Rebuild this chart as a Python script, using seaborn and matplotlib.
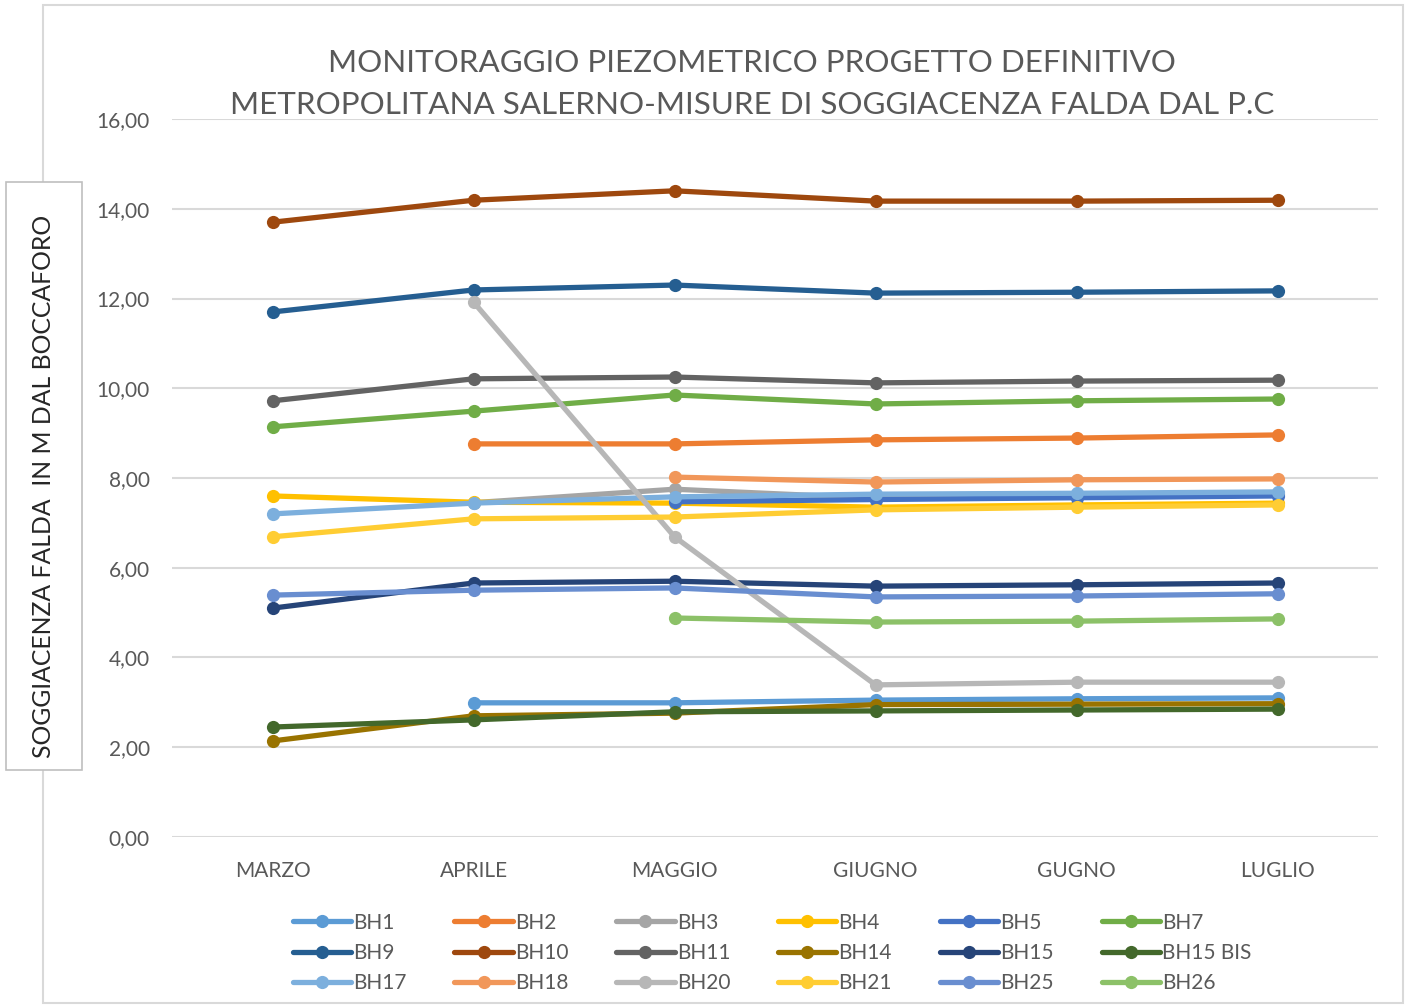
import matplotlib
matplotlib.use("Agg")
import matplotlib.pyplot as plt
from matplotlib.patches import Rectangle
from matplotlib.ticker import FuncFormatter
import numpy as np
import pandas as pd
import seaborn as sns

MONTHS = ["MARZO", "APRILE", "MAGGIO", "GIUGNO", "GUGNO", "LUGLIO"]

BH1 = [np.nan, 2.99, 2.99, 3.05, 3.08, 3.10]
BH2 = [np.nan, 8.76, 8.76, 8.85, 8.89, 8.96]
BH3 = [np.nan, 7.45, 7.75, 7.55, 7.60, 7.65]
BH4 = [7.60, 7.46, 7.44, 7.35, 7.40, 7.44]
BH5 = [np.nan, np.nan, 7.47, 7.52, 7.56, 7.60]
BH7 = [9.14, 9.49, 9.85, 9.65, 9.72, 9.76]
BH9 = [11.70, 12.19, 12.30, 12.12, 12.14, 12.17]
BH10 = [13.70, 14.19, 14.40, 14.17, 14.17, 14.19]
BH11 = [9.72, 10.21, 10.25, 10.12, 10.16, 10.18]
BH14 = [2.14, 2.70, 2.76, 2.95, 2.96, 2.97]
BH15 = [5.10, 5.66, 5.70, 5.59, 5.62, 5.66]
BH15_BIS = [2.45, 2.61, 2.79, 2.81, 2.83, 2.85]
BH17 = [7.20, 7.44, 7.58, 7.64, 7.66, 7.69]
BH18 = [np.nan, np.nan, 8.02, 7.91, 7.96, 7.98]
BH20 = [np.nan, 11.92, 6.69, 3.39, 3.45, 3.45]
BH21 = [6.69, 7.09, 7.13, 7.29, 7.35, 7.40]
BH25 = [5.39, 5.50, 5.55, 5.35, 5.37, 5.42]
BH26 = [np.nan, np.nan, 4.88, 4.79, 4.81, 4.86]

SERIES = {
    "BH1": BH1, "BH2": BH2, "BH3": BH3, "BH4": BH4, "BH5": BH5, "BH7": BH7,
    "BH9": BH9, "BH10": BH10, "BH11": BH11, "BH14": BH14, "BH15": BH15,
    "BH15 BIS": BH15_BIS, "BH17": BH17, "BH18": BH18, "BH20": BH20,
    "BH21": BH21, "BH25": BH25, "BH26": BH26,
}

COLORS = {
    "BH1": "#5B9BD5", "BH2": "#ED7D31", "BH3": "#A5A5A5", "BH4": "#FFC000",
    "BH5": "#4472C4", "BH7": "#70AD47", "BH9": "#255E91", "BH10": "#9E480E",
    "BH11": "#636363", "BH14": "#997300", "BH15": "#264478",
    "BH15 BIS": "#43682B", "BH17": "#7CAFDD", "BH18": "#F1975A",
    "BH20": "#B7B7B7", "BH21": "#FFCD33", "BH25": "#698ED0", "BH26": "#8CC168",
}

TITLE = ("MONITORAGGIO PIEZOMETRICO PROGETTO DEFINITIVO\n"
         "METROPOLITANA SALERNO-MISURE DI SOGGIACENZA FALDA DAL P.C")
YLABEL = "SOGGIACENZA FALDA  IN M DAL BOCCAFORO"

TEXT = "#595959"

sns.set_theme(style="white")
plt.rcParams["font.family"] = ["Lato", "DejaVu Sans"]

rows = []
for name, vals in SERIES.items():
    for i, v in enumerate(vals):
        rows.append({"month": i, "value": v, "series": name})
df = pd.DataFrame(rows).dropna()

fig = plt.figure(figsize=(14.09, 10.06), dpi=100)
ax = fig.add_axes([0.1221, 0.168, 0.8559, 0.7137])

sns.lineplot(data=df, x="month", y="value", hue="series",
             hue_order=list(SERIES.keys()), palette=COLORS,
             marker="o", markersize=9.5, markeredgewidth=0,
             linewidth=3.8, ax=ax, sort=False)

ax.set_xlim(-0.5, 5.5)
ax.set_ylim(0, 16)
ax.set_yticks(np.arange(0, 17, 2))
ax.yaxis.set_major_formatter(FuncFormatter(lambda v, p: f"{v:.2f}".replace(".", ",")))
ax.set_xticks(range(len(MONTHS)))
ax.set_xticklabels(MONTHS)
ax.tick_params(axis="y", length=0, pad=16, labelsize=15, labelcolor=TEXT)
ax.tick_params(axis="x", length=0, pad=17, labelsize=15, labelcolor=TEXT)
ax.set_xlabel("")
ax.set_ylabel("")
ax.grid(axis="y", color="#D9D9D9", linewidth=1.5)
ax.set_axisbelow(True)
for s in ax.spines.values():
    s.set_visible(False)

# legend, row-wise order
handles, labels = ax.get_legend_handles_labels()
ax.legend_.remove()
order = [j + 6 * r for j in range(6) for r in range(3)]
fig.legend([handles[i] for i in order], [labels[i] for i in order],
           ncol=6, loc="center", bbox_to_anchor=(0.548, 0.0527),
           frameon=False, fontsize=15, labelcolor=TEXT,
           handlelength=2.8, handletextpad=0.1, columnspacing=2.3,
           labelspacing=0.5)

fig.text(0.534, 1 - 84 / 1006, TITLE, ha="center", va="center", fontsize=22.6,
         color=TEXT, linespacing=1.64)

# chart border
fig.add_artist(Rectangle((43 / 1409, 1 - 1003 / 1006), 1360 / 1409, 998 / 1006,
                         transform=fig.transFigure, fill=False,
                         edgecolor="#D9D9D9", linewidth=1.5, zorder=0))
# y label box
fig.add_artist(Rectangle((6 / 1409, 1 - 770 / 1006), 76 / 1409, 588 / 1006,
                         transform=fig.transFigure, facecolor="white",
                         edgecolor="#BFBFBF", linewidth=1.2, zorder=5))
fig.text(44 / 1409, 1 - 486 / 1006, YLABEL, rotation=90, ha="center",
         va="center", fontsize=17.8, color="#262626", zorder=6)

fig.savefig("out.png", dpi=100, facecolor="white")
